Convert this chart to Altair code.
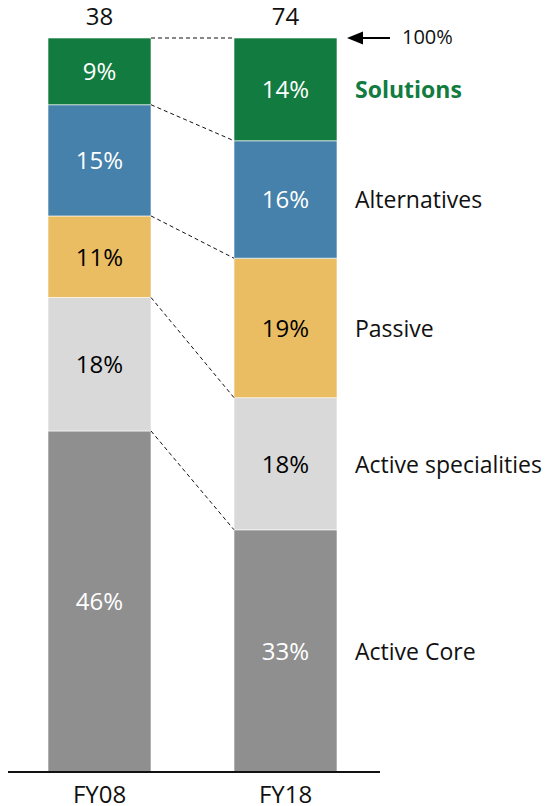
import altair as alt
import pandas as pd

# ---- data ----
years = ["FY08", "FY18"]
totals = [38, 74]
categories = ["Active Core", "Active specialities", "Passive", "Alternatives", "Solutions"]  # bottom -> top
fy08_share = [46, 18, 11, 15, 9]
fy18_share = [33, 18, 19, 16, 14]
top_label = "100%"

# ---- styles ----
seg_colors = ["#8F8F8F", "#D9D9D9", "#EBBD63", "#4581AA", "#127B3F"]
seg_text_colors = ["white", "black", "black", "white", "white"]
FONT = "Open Sans"
FS = 24
FS_CAT = 23

# ---- layout (pixels inside plot area) ----
PLOT_W, PLOT_H = 536, 734
BAR_W, BAR_GAP, BAR_LEFT = 103, 83, 40
LABEL_X = 347

xs = alt.Scale(domain=[0, PLOT_W])
ys = alt.Scale(domain=[0, 100])

shares = [fy08_share, fy18_share]
rows = []
bounds = []
for i, yr in enumerate(years):
    s = shares[i]
    tot = sum(s)
    x0 = BAR_LEFT + i * (BAR_W + BAR_GAP)
    cum = 0.0
    b = []
    for k, cat in enumerate(categories):
        y0 = cum / tot * 100
        cum += s[k]
        y1 = cum / tot * 100
        b.append(y1)
        rows.append(dict(year=yr, cat=cat, x0=x0, x1=x0 + BAR_W, xc=x0 + BAR_W / 2,
                         y0=y0, y1=y1, ym=(y0 + y1) / 2, label=f"{s[k]}%",
                         tcolor=seg_text_colors[k]))
    bounds.append(b)
seg = pd.DataFrame(rows)

bar_x = [BAR_LEFT + i * (BAR_W + BAR_GAP) for i in range(len(years))]
conn = pd.DataFrame(dict(x=[bar_x[0] + BAR_W] * len(categories),
                         x2=[bar_x[1]] * len(categories),
                         y=bounds[0], y2=bounds[1]))
tot_df = pd.DataFrame(dict(year=years, total=[str(t) for t in totals],
                           xc=[x + BAR_W / 2 for x in bar_x], y=[100] * len(years), y0=[0] * len(years)))

fy18 = seg[seg.year == "FY18"].copy()
fy18["lx"] = LABEL_X

bars = alt.Chart(seg).mark_rect(stroke="white", strokeWidth=0.6).encode(
    x=alt.X("x0:Q", scale=xs, axis=None), x2="x1:Q",
    y=alt.Y("y0:Q", scale=ys, axis=None), y2="y1:Q",
    color=alt.Color("cat:N", scale=alt.Scale(domain=categories, range=seg_colors), legend=None),
)
seg_text = alt.Chart(seg).mark_text(font=FONT, fontSize=FS, baseline="middle", dy=2).encode(
    x=alt.X("xc:Q", scale=xs), y=alt.Y("ym:Q", scale=ys), text="label:N",
    color=alt.Color("tcolor:N", scale=None),
)
connectors = alt.Chart(conn).mark_rule(color="#111111", strokeWidth=1, strokeDash=[4, 3]).encode(
    x=alt.X("x:Q", scale=xs), x2="x2:Q", y=alt.Y("y:Q", scale=ys), y2="y2:Q",
)
tot_text = alt.Chart(tot_df).mark_text(font=FONT, fontSize=FS, baseline="middle", dy=-20, color="#111111").encode(
    x=alt.X("xc:Q", scale=xs), y=alt.Y("y:Q", scale=ys), text="total:N",
)
yr_text = alt.Chart(tot_df).mark_text(font=FONT, fontSize=FS, baseline="middle", dy=24, color="#111111").encode(
    x=alt.X("xc:Q", scale=xs), y=alt.Y("y0:Q", scale=ys), text="year:N",
)
base_df = pd.DataFrame(dict(x=[-1], x2=[372], y=[0]))
baseline = alt.Chart(base_df).mark_rule(color="#111111", strokeWidth=2).encode(
    x=alt.X("x:Q", scale=xs), x2="x2:Q", y=alt.Y("y:Q", scale=ys),
)
cat_text = alt.Chart(fy18[fy18.cat != "Solutions"]).mark_text(
    font=FONT, fontSize=FS_CAT, align="left", baseline="middle", dy=2, color="#111111").encode(
    x=alt.X("lx:Q", scale=xs), y=alt.Y("ym:Q", scale=ys), text="cat:N",
)
sol_text = alt.Chart(fy18[fy18.cat == "Solutions"]).mark_text(
    font=FONT, fontSize=FS_CAT, fontWeight="bold", align="left", baseline="middle", dy=2, color="#127B3F").encode(
    x=alt.X("lx:Q", scale=xs), y=alt.Y("ym:Q", scale=ys), text="cat:N",
)
arrow_df = pd.DataFrame(dict(x=[347], x2=[382], tx=[394], y=[100], t=[top_label]))
arrow_line = alt.Chart(arrow_df).mark_rule(color="black", strokeWidth=2).encode(
    x=alt.X("x:Q", scale=xs), x2="x2:Q", y=alt.Y("y:Q", scale=ys),
)
arrow_head = alt.Chart(arrow_df).mark_point(
    shape="M -1 0 L 1 -0.8 L 1 0.8 Z", size=256, filled=True, color="black", opacity=1).encode(
    x=alt.X("x:Q", scale=xs), y=alt.Y("y:Q", scale=ys),
)
arrow_text = alt.Chart(arrow_df).mark_text(font=FONT, fontSize=20, align="left", baseline="middle", color="#111111").encode(
    x=alt.X("tx:Q", scale=xs), y=alt.Y("y:Q", scale=ys), text="t:N",
)

chart = alt.layer(
    bars, connectors, seg_text, tot_text, yr_text, baseline,
    cat_text, sol_text, arrow_line, arrow_head, arrow_text,
).properties(
    width=PLOT_W, height=PLOT_H,
    autosize=alt.AutoSizeParams(type="none"),
    padding={"left": 0, "right": 0, "top": 30, "bottom": 36},
).configure_view(stroke=None)

chart.save("out.html", embed_options={"renderer": "svg", "actions": False})
